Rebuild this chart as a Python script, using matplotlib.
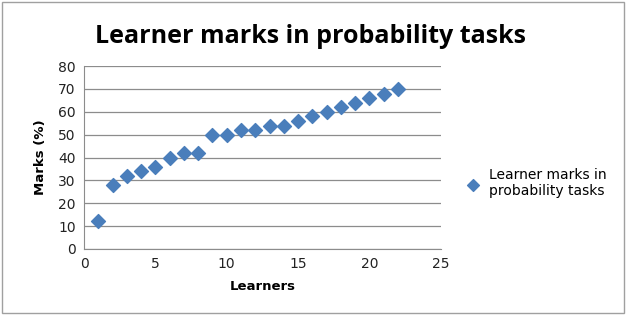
import matplotlib
matplotlib.use('Agg')
import matplotlib.pyplot as plt
from matplotlib.patches import Rectangle

learners = list(range(1, 23))
marks = [12, 28, 32, 34, 36, 40, 42, 42, 50, 50, 52, 52,
         54, 54, 56, 58, 60, 62, 64, 66, 68, 70]
series_name = 'Learner marks in\nprobability tasks'

fig = plt.figure(figsize=(6.27, 3.15), dpi=100)
fig.patches.append(Rectangle((0.003, 0.005), 0.993, 0.99, transform=fig.transFigure,
                             fill=False, edgecolor='#a0a0a0', linewidth=1))

ax = fig.add_axes([0.134, 0.210, 0.569, 0.580])
ax.scatter(learners, marks, marker='D', s=50, color='#4a7ebb', zorder=3,
           label=series_name)

ax.set_xlim(0, 25)
ax.set_ylim(0, 80)
ax.set_xticks(range(0, 26, 5))
ax.set_yticks(range(0, 81, 10))
ax.grid(axis='y', color='#8c8c8c', linewidth=0.9)
ax.set_axisbelow(True)
for side in ['top', 'right']:
    ax.spines[side].set_visible(False)
ax.spines['left'].set_color('#8c8c8c')
ax.spines['bottom'].set_color('#8c8c8c')
ax.tick_params(axis='both', length=0, labelsize=10, pad=6, colors='#222222')

ax.set_xlabel('Learners', fontsize=9.5, fontweight='bold', labelpad=6)
ax.set_ylabel('Marks (%)', fontsize=9.5, fontweight='bold', labelpad=8)
fig.text(0.495, 0.885, 'Learner marks in probability tasks', ha='center', va='center',
         fontsize=18, fontweight='bold', family='Open Sans')

ax.legend(loc='center left', bbox_to_anchor=(1.035, 0.36), frameon=False,
          fontsize=10, handletextpad=0.15, markerscale=0.85, borderaxespad=0,
          labelspacing=0.3)

fig.savefig('out.png', dpi=100)
